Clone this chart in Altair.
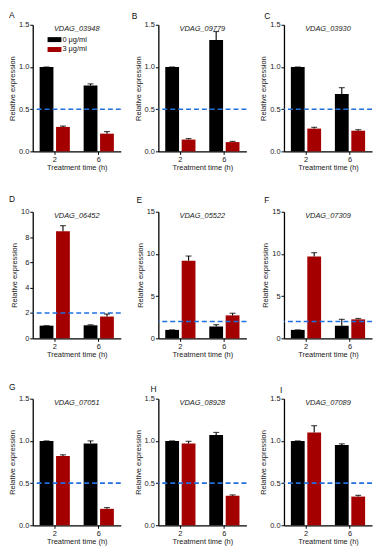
import altair as alt
import pandas as pd

# ---------------- data ----------------
panel_letters = ["A", "B", "C", "D", "E", "F", "G", "H", "I"]
genes = ["VDAG_03948", "VDAG_09779", "VDAG_03930",
         "VDAG_06452", "VDAG_05522", "VDAG_07309",
         "VDAG_07051", "VDAG_08928", "VDAG_07089"]
times = ["2", "6"]
doses = ["0 μg/ml", "3 μg/ml"]

ctrl_2h = [1.00, 1.00, 1.00, 1.00, 1.00, 1.00, 1.00, 1.00, 1.00]
treat_2h = [0.29, 0.14, 0.27, 8.45, 9.20, 9.70, 0.82, 0.97, 1.10]
ctrl_6h = [0.78, 1.32, 0.68, 1.03, 1.40, 1.50, 0.97, 1.07, 0.95]
treat_6h = [0.21, 0.11, 0.245, 1.72, 2.72, 2.25, 0.195, 0.35, 0.34]

ctrl_2h_err = [0, 0, 0, 0, 0, 0, 0, 0, 0]
treat_2h_err = [0.01, 0.012, 0.015, 0.45, 0.55, 0.45, 0.015, 0.025, 0.08]
ctrl_6h_err = [0.02, 0.10, 0.075, 0.04, 0.22, 0.75, 0.03, 0.03, 0.015]
treat_6h_err = [0.025, 0.008, 0.012, 0.20, 0.25, 0.10, 0.015, 0.01, 0.015]

cutoffs = [0.5, 0.5, 0.5, 2, 2, 2, 0.5, 0.5, 0.5]
y_max = [1.5, 1.5, 1.5, 10, 15, 15, 1.5, 1.5, 1.5]
y_ticks = [[0, 0.5, 1, 1.5]] * 3 + [[0, 2, 4, 6, 8, 10], [0, 5, 10, 15], [0, 5, 10, 15]] + [[0, 0.5, 1, 1.5]] * 3

# ---------------- layout / style ----------------
W, H = 89, 128
letter_dx = [-24, -27, -20, -24, -22, -20, -24, -8, -4]
letter_dy = [-7, -6, -6, -10, -9, -9, -9, -7, -6]
BAR_COLORS = ["#000000", "#a50000"]
FONT = "Liberation Sans"


def make_panel(i):
    df = pd.DataFrame({
        "time": [times[0], times[0], times[1], times[1]],
        "dose": [doses[0], doses[1], doses[0], doses[1]],
        "value": [ctrl_2h[i], treat_2h[i], ctrl_6h[i], treat_6h[i]],
        "err": [ctrl_2h_err[i], treat_2h_err[i], ctrl_6h_err[i], treat_6h_err[i]],
    })
    df["hi"] = df["value"] + df["err"]

    fmt = ".1f" if y_max[i] < 2 else "d"
    yscale = alt.Scale(domain=[0, y_max[i]], nice=False, zero=True)
    yaxis = alt.Axis(title="Relative expression", values=y_ticks[i], format=fmt)

    def yenc(f):
        return alt.Y(f, type="quantitative", scale=yscale, axis=yaxis)

    xenc = alt.X("time:N", scale=alt.Scale(domain=times, paddingInner=0, paddingOuter=0),
                 axis=alt.Axis(title="Treatment time (h)", labelAngle=0))
    xoff = alt.XOffset("dose:N", scale=alt.Scale(domain=doses, paddingInner=0.16, paddingOuter=0.42))

    if i == 0:
        legend = alt.Legend(orient="none", legendX=17, legendY=10, title=None,
                            symbolType="M-1.4,-0.5H1.4V0.5H-1.4Z", symbolSize=100,
                            symbolStrokeWidth=0, labelFontSize=7.5, labelOffset=3,
                            rowPadding=1, labelFont=FONT, labelColor="#111")
    else:
        legend = None

    base = alt.Chart(df)
    bars = base.mark_bar().encode(
        x=xenc, xOffset=xoff, y=yenc("value"),
        color=alt.Color("dose:N", scale=alt.Scale(domain=doses, range=BAR_COLORS), legend=legend),
    )
    cut = alt.Chart(pd.DataFrame({"value": [cutoffs[i]]})).mark_rule(
        color="#1f6fe0", strokeDash=[5, 3], strokeWidth=1.6
    ).encode(y=yenc("value"))
    err = base.mark_rule(color="black", strokeWidth=1.1).encode(
        x=xenc, xOffset=xoff, y=yenc("value"), y2=alt.Y2("hi")
    )
    cap = base.mark_tick(color="black", thickness=1.2, size=6).encode(
        x=xenc, xOffset=xoff, y=yenc("hi")
    )
    title = alt.Chart(pd.DataFrame({"gene": [genes[i]]})).mark_text(
        fontStyle="italic", fontSize=7.5, baseline="top", color="#222", font=FONT
    ).encode(text="gene:N", x=alt.value(W / 2), y=alt.value(0.5))
    letter = alt.Chart(pd.DataFrame({"panel": [panel_letters[i]]})).mark_text(
        fontSize=8.5, align="left", baseline="alphabetic", color="#111", font=FONT
    ).encode(text="panel:N", x=alt.value(letter_dx[i]), y=alt.value(letter_dy[i]))

    return alt.layer(bars, cut, err, cap, title, letter).properties(width=W, height=H)


panels = [make_panel(i) for i in range(9)]

chart = alt.concat(
    *panels, columns=3, spacing={"row": 61, "column": 38}, bounds="flush"
).resolve_scale(color="independent").properties(padding=0).configure_view(
    stroke=None
).configure_axis(
    domainColor="black", domainWidth=1.3, tickColor="black", tickWidth=1, tickSize=3,
    labelFontSize=7.5, labelColor="#222", labelFont=FONT,
    titleFontSize=7.5, titleFontWeight="normal", titleColor="#222", titleFont=FONT,
    grid=False,
).configure_axisY(labelPadding=1, titlePadding=2).configure_axisX(labelPadding=1, titlePadding=1)

chart.save("out.html", embed_options={"renderer": "svg", "actions": False})
